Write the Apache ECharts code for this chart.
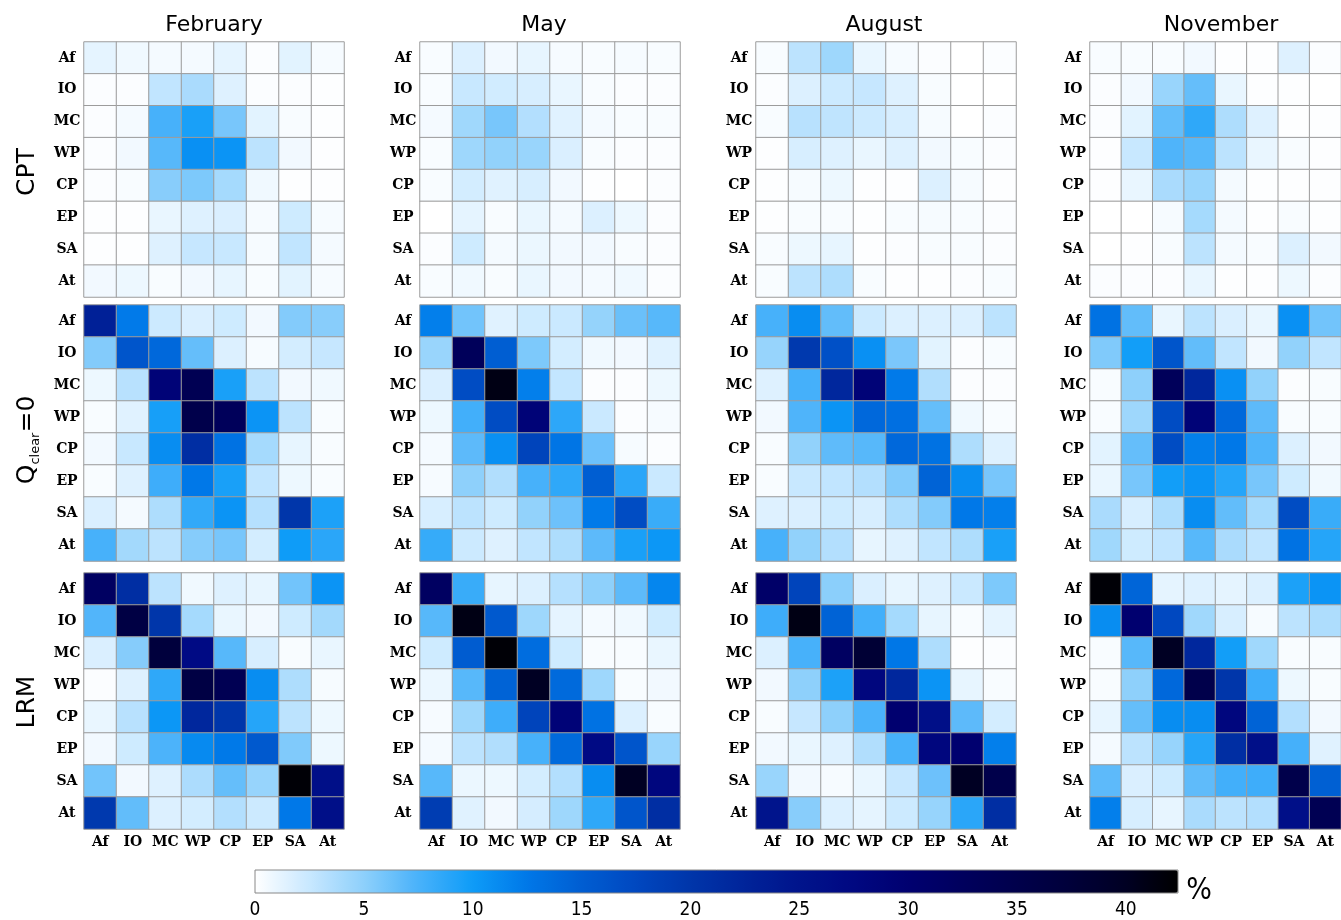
<!DOCTYPE html>
<html>
<head>
<meta charset="utf-8">
<script src="https://cdn.jsdelivr.net/npm/echarts@6/dist/echarts.min.js"></script>
<style>
html,body{margin:0;padding:0;background:#fff;}
#chart{width:1341px;height:920px;}
</style>
</head>
<body>
<div id="chart"></div>
<script>
// ---------------- data ----------------
const regions = ['Af', 'IO', 'MC', 'WP', 'CP', 'EP', 'SA', 'At'];
const months = ['February', 'May', 'August', 'November'];
const schemes = ['CPT', 'Qclear=0', 'LRM'];

// rows = Af..At (top to bottom), columns = Af..At (left to right), values in %
const cptFeb = [
  [1.2, 0.7, 0.5, 0.5, 1.2, 0.2, 1.3, 0.4],
  [0.2, 0.2, 2.8, 3.8, 1.5, 0.2, 0.2, 0.1],
  [0.2, 0.5, 7.6, 9.5, 5.8, 1.3, 0.3, 0.1],
  [0.2, 0.6, 7.0, 10.8, 10.5, 3.0, 0.6, 0.1],
  [0.2, 0.3, 5.2, 5.6, 4.0, 0.7, 0.1, 0.1],
  [0.1, 0.1, 1.0, 1.5, 1.7, 0.4, 2.2, 0.4],
  [0.1, 0.1, 1.5, 2.6, 2.5, 0.4, 2.8, 0.5],
  [0.6, 0.8, 0.3, 0.6, 1.1, 0.3, 1.3, 0.4]
];
const cptMay = [
  [0.3, 1.6, 0.6, 1.1, 0.4, 0.3, 0.4, 0.3],
  [0.3, 2.5, 2.1, 1.8, 1.0, 0.3, 0.2, 0.2],
  [0.5, 4.2, 5.8, 3.4, 1.4, 0.5, 0.3, 0.3],
  [0.3, 4.3, 4.8, 4.5, 1.7, 0.3, 0.2, 0.2],
  [0.3, 2.0, 1.4, 1.8, 0.6, 0.1, 0.0, 0.2],
  [0.0, 1.2, 0.3, 1.0, 0.5, 1.6, 0.8, 0.2],
  [0.2, 2.2, 0.5, 0.9, 0.6, 0.6, 0.3, 0.2],
  [0.3, 0.7, 0.3, 1.0, 0.6, 0.5, 0.7, 0.2]
];
const cptAug = [
  [0.3, 3.0, 4.3, 1.0, 0.4, 0.2, 0.0, 0.2],
  [0.2, 1.6, 2.3, 2.6, 1.5, 0.3, 0.0, 0.0],
  [0.3, 3.2, 2.9, 2.3, 1.8, 0.4, 0.0, 0.2],
  [0.1, 1.8, 1.5, 1.0, 1.5, 0.6, 0.3, 0.2],
  [0.1, 0.4, 0.8, 0.1, 0.1, 1.6, 0.4, 0.1],
  [0.1, 0.3, 0.3, 0.1, 0.3, 0.4, 0.3, 0.2],
  [0.3, 0.8, 1.1, 0.1, 0.2, 0.3, 0.3, 0.2],
  [0.3, 3.0, 3.6, 0.3, 0.1, 0.1, 0.2, 0.3]
];
const cptNov = [
  [0.3, 0.3, 0.3, 0.6, 0.1, 0.1, 1.5, 0.2],
  [0.2, 0.6, 4.5, 6.5, 1.0, 0.1, 0.1, 0.0],
  [0.2, 1.3, 6.6, 8.6, 3.6, 1.5, 0.1, 0.1],
  [0.1, 2.5, 7.3, 7.0, 3.0, 1.0, 0.3, 0.1],
  [0.1, 1.0, 3.8, 4.5, 0.5, 0.1, 0.1, 0.1],
  [0.0, 0.0, 0.4, 4.0, 0.5, 0.1, 0.3, 0.1],
  [0.0, 0.1, 0.3, 3.0, 0.5, 0.3, 1.6, 0.6],
  [0.2, 0.2, 0.2, 1.0, 0.1, 0.1, 0.8, 0.2]
];
const qFeb = [
  [23, 12.3, 2.3, 1.7, 2.2, 0.6, 5.4, 5.2],
  [5.4, 16, 14, 6.5, 1.6, 0.4, 2.0, 2.6],
  [0.8, 3.2, 29, 34, 9.5, 3.0, 0.6, 0.7],
  [0.3, 1.4, 9.6, 35, 33, 10.5, 3.0, 0.3],
  [0.6, 2.5, 11, 21, 13, 4.0, 1.1, 0.3],
  [0.3, 1.5, 8.0, 12.5, 9.5, 2.8, 0.8, 0.3],
  [1.7, 0.5, 3.6, 8.5, 10.5, 3.3, 20, 9.4],
  [7.6, 4.1, 3.0, 5.3, 5.8, 2.0, 10, 8.8]
];
const qMay = [
  [12, 6.0, 1.4, 2.2, 2.4, 4.7, 6.3, 7.0],
  [4.5, 33, 15, 5.6, 2.0, 0.7, 0.6, 1.4],
  [1.7, 17, 41, 12, 2.7, 0.2, 0.2, 0.8],
  [0.8, 7.8, 17, 29, 8.7, 2.4, 0.2, 0.4],
  [0.5, 6.8, 10.8, 18, 12.8, 6.2, 0.4, 0.2],
  [0.4, 5.0, 3.5, 7.6, 8.6, 15, 8.8, 2.4],
  [1.8, 3.0, 2.2, 4.8, 6.2, 12.3, 17, 8.2],
  [8.3, 2.3, 1.5, 2.8, 3.6, 6.8, 9.5, 10.3]
];
const qAug = [
  [7.6, 11, 6.6, 2.3, 1.6, 1.6, 1.6, 3.0],
  [4.6, 19.5, 16.5, 10.8, 5.7, 1.3, 0.2, 0.3],
  [1.5, 7.7, 22, 29, 12.3, 3.5, 0.2, 0.2],
  [0.6, 7.3, 10.5, 14, 13.3, 6.5, 0.7, 0.3],
  [0.3, 4.8, 6.7, 7.0, 14, 13, 3.6, 1.5],
  [0.3, 2.5, 2.8, 3.4, 5.4, 14.5, 11, 5.8],
  [1.5, 1.7, 2.2, 1.8, 3.6, 5.4, 12.5, 12.0],
  [7.6, 4.8, 3.4, 1.1, 1.5, 2.8, 3.6, 9.5]
];
const qNov = [
  [13, 6.6, 1.0, 3.0, 1.7, 1.0, 10.8, 6.0],
  [5.5, 9.8, 16, 6.6, 2.8, 0.6, 4.8, 2.8],
  [0.3, 5.0, 33, 22, 10.8, 4.8, 0.2, 0.3],
  [0.3, 4.3, 17, 29, 14, 6.8, 0.3, 0.3],
  [1.3, 6.5, 17, 12, 12.5, 7.3, 1.6, 0.6],
  [1.0, 5.8, 9.8, 10.5, 9.0, 5.8, 2.2, 0.7],
  [3.8, 1.8, 3.6, 11, 6.6, 4.0, 17, 8.2],
  [4.2, 2.2, 2.8, 7.0, 3.8, 2.8, 13, 9.0]
];
const lrmFeb = [
  [32, 21, 3.0, 0.7, 1.5, 1.1, 6.0, 10.5],
  [7.2, 36, 20, 4.0, 1.0, 0.6, 2.2, 4.1],
  [1.7, 5.3, 37, 27, 7.0, 1.8, 0.3, 1.0],
  [0.2, 1.5, 8.6, 36, 34, 11, 3.6, 0.4],
  [1.0, 3.2, 10.3, 22, 20, 9.0, 3.0, 0.8],
  [0.6, 2.2, 7.4, 11.2, 12.4, 15.5, 5.5, 0.8],
  [6.0, 0.6, 1.5, 3.7, 6.5, 4.6, 42, 26],
  [19.5, 6.6, 1.6, 2.0, 3.4, 2.3, 12.5, 26]
];
const lrmMay = [
  [32, 8.2, 1.1, 1.6, 3.3, 5.0, 6.8, 11.5],
  [7.0, 41, 15.5, 4.3, 1.2, 0.5, 0.7, 2.2],
  [2.2, 15.2, 42, 13.5, 2.2, 0.3, 0.3, 1.0],
  [0.9, 7.0, 14.5, 40, 13.8, 4.3, 0.3, 0.6],
  [0.4, 4.3, 8.0, 18, 29, 13, 1.6, 0.3],
  [0.5, 3.0, 3.5, 7.6, 13.8, 27, 16, 4.5],
  [7.0, 0.9, 0.8, 2.0, 3.4, 11.0, 40, 28],
  [19, 1.4, 0.6, 1.9, 4.3, 8.6, 16, 21]
];
const lrmAug = [
  [31, 18, 5.1, 1.7, 1.1, 1.5, 2.4, 5.6],
  [8.0, 41, 14.5, 7.8, 4.0, 1.1, 0.3, 1.2],
  [1.6, 7.6, 32, 38, 12.6, 3.6, 0.1, 0.2],
  [0.6, 5.0, 9.4, 28, 22, 10.5, 1.1, 0.3],
  [0.3, 2.6, 5.0, 7.5, 30, 26, 6.8, 2.0],
  [0.6, 1.0, 1.5, 3.5, 7.6, 28, 30, 12],
  [4.5, 0.6, 0.4, 1.0, 2.6, 6.2, 40, 35],
  [25, 5.2, 1.6, 1.2, 2.3, 4.6, 8.8, 21]
];
const lrmNov = [
  [42, 14.3, 1.2, 1.5, 1.2, 1.6, 9.4, 10.5],
  [11, 30, 17.5, 4.2, 1.8, 0.4, 3.0, 3.6],
  [0.3, 7.0, 40, 22, 9.8, 4.2, 0.3, 0.3],
  [0.3, 5.0, 14, 35, 20, 8.0, 0.8, 0.3],
  [1.1, 6.5, 11, 11, 28, 14.5, 3.4, 0.6],
  [0.5, 3.0, 4.6, 9.0, 21, 26, 7.7, 1.4],
  [6.8, 1.7, 2.2, 6.7, 7.8, 8.0, 35, 14.8],
  [12, 1.8, 1.1, 3.8, 3.0, 3.4, 26, 34]
];
const colorbarMin = 0;
const colorbarMax = 42.4;
const colorbarStep = 5;

// ---------------- layout / styling ----------------
const panels = [
  [cptFeb, cptMay, cptAug, cptNov],
  [qFeb, qMay, qAug, qNov],
  [lrmFeb, lrmMay, lrmAug, lrmNov]
];
const colLeft = [84, 420, 756, 1090];
const titleX = [214, 544, 884, 1221];
const rowTop = [42, 305, 573];
const rowH = [255, 256, 256];
const rowTitleY = [172, 440, 702];
const panelW = 260;

const palette = ['#ffffff', '#c8e8ff', '#8ed0fb', '#4ab2fa', '#0e9cf8', '#0078e8', '#005ed2',
  '#0048c0', '#0036aa', '#00249a', '#00148c', '#000882', '#000070', '#00005e', '#00004c',
  '#00003a', '#000024', '#000000'];

const labelFont = {
  fontFamily: 'DejaVu Serif', fontWeight: 'bold', fontSize: 14, color: '#000'
};
const cbFont = "'Liberation Sans Narrow', 'DejaVu Sans Condensed', 'Liberation Sans', sans-serif";

const grids = [], xAxes = [], yAxes = [], series = [];
let idx = 0;
for (let r = 0; r < 3; r++) {
  for (let c = 0; c < 4; c++) {
    grids.push({ left: colLeft[c], top: rowTop[r], width: panelW, height: rowH[r] });
    xAxes.push({
      gridIndex: idx, type: 'category', data: regions, position: 'bottom',
      axisLine: { show: false }, axisTick: { show: false }, splitLine: { show: false },
      axisLabel: Object.assign({ show: r === 2, margin: 6, interval: 0 }, labelFont)
    });
    yAxes.push({
      gridIndex: idx, type: 'category', data: regions, inverse: true,
      axisLine: { show: false }, axisTick: { show: false }, splitLine: { show: false },
      axisLabel: Object.assign({ margin: 17, align: 'center', interval: 0 }, labelFont)
    });
    const m = panels[r][c];
    const d = [];
    for (let yi = 0; yi < regions.length; yi++) {
      for (let xi = 0; xi < regions.length; xi++) d.push([xi, yi, m[yi][xi]]);
    }
    series.push({
      type: 'heatmap', xAxisIndex: idx, yAxisIndex: idx, data: d,
      itemStyle: { borderColor: '#9c9c9c', borderWidth: 1 },
      emphasis: { disabled: true }
    });
    idx++;
  }
}
// colorbar tick-label axis
grids.push({ left: 255, top: 870, width: 923, height: 23 });
xAxes.push({
  gridIndex: 12, type: 'value', min: colorbarMin, max: colorbarMax, interval: colorbarStep,
  position: 'bottom',
  axisLine: { show: false }, axisTick: { show: false }, splitLine: { show: false },
  axisLabel: { margin: 10, showMaxLabel: false, fontSize: 19, fontFamily: cbFont, color: '#000' }
});
yAxes.push({ gridIndex: 12, type: 'value', show: false });

const graphics = [];
months.forEach((mName, c) => {
  graphics.push({
    type: 'text', x: titleX[c], y: 25,
    style: { text: mName, fontFamily: 'DejaVu Sans', fontSize: 22, fill: '#000',
      align: 'center', verticalAlign: 'middle' }
  });
});
const schemeText = [
  '{t|CPT}',
  '{t|Q}{s|clear}{t|=0}',
  '{t|LRM}'
];
schemes.forEach((s, r) => {
  graphics.push({
    type: 'text', x: 27, y: rowTitleY[r], rotation: Math.PI / 2,
    style: {
      text: schemeText[r], align: 'center', verticalAlign: 'middle', fill: '#000',
      rich: {
        t: { fontFamily: 'DejaVu Sans', fontSize: 25, lineHeight: 30, fill: '#000' },
        s: { fontFamily: 'DejaVu Sans', fontSize: 13, lineHeight: 14, verticalAlign: 'bottom', fill: '#000' }
      }
    }
  });
});
graphics.push({
  type: 'text', x: 1199, y: 891,
  style: { text: '%', fontSize: 30, fill: '#000', align: 'center', verticalAlign: 'middle',
    fontFamily: cbFont }
});
graphics.push({
  type: 'rect', shape: { x: 255, y: 870, width: 923, height: 23 },
  style: { fill: 'none', stroke: '#888', lineWidth: 1 }, z: 100
});

const chart = echarts.init(document.getElementById('chart'), null, { renderer: 'canvas' });
chart.setOption({
  animation: false,
  backgroundColor: '#fff',
  grid: grids,
  xAxis: xAxes,
  yAxis: yAxes,
  series: series,
  visualMap: {
    type: 'continuous', min: colorbarMin, max: colorbarMax, dimension: 2,
    seriesIndex: series.map((s, i) => i),
    orient: 'horizontal', left: 255, top: 870, itemWidth: 23, itemHeight: 923,
    padding: 0, text: null, calculable: false, hoverLink: false,
    inRange: { color: palette }
  },
  graphic: graphics
});
</script>
</body>
</html>
